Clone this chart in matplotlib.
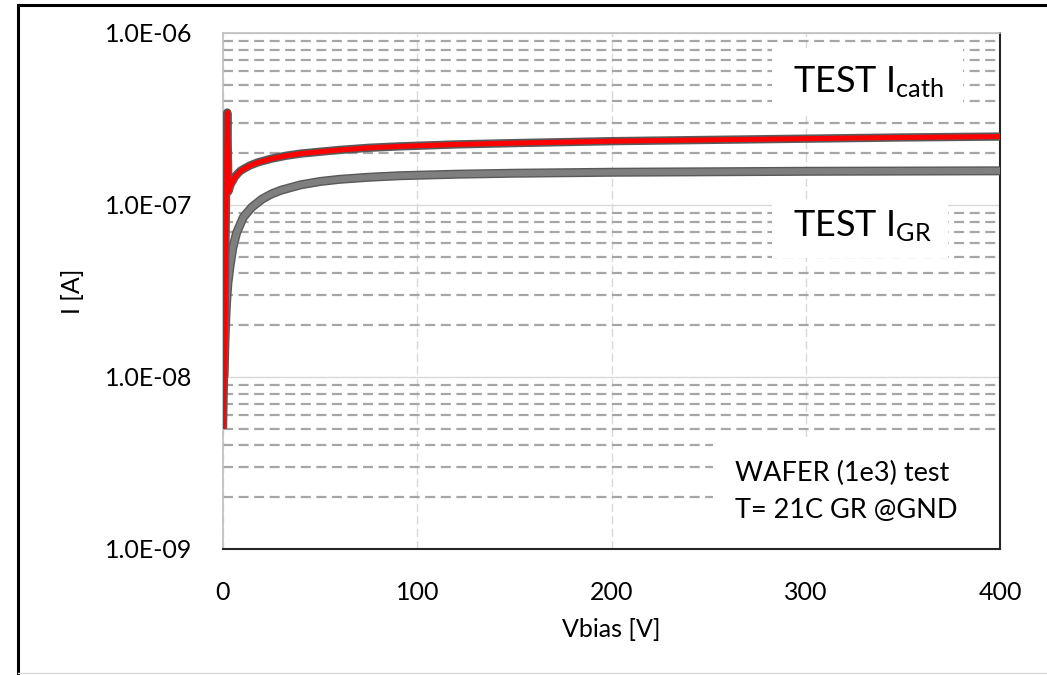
import numpy as np
import matplotlib.pyplot as plt
from matplotlib.ticker import FuncFormatter, LogLocator, FixedLocator
from matplotlib.patches import Rectangle
from matplotlib.lines import Line2D

plt.rcParams['font.family'] = ['Lato', 'DejaVu Sans']
plt.rcParams['mathtext.default'] = 'regular'

# данные
v_cath = [0, 0.5, 1.0, 1.5, 2.0, 2.2, 2.5, 2.8, 3.5, 4, 5, 6, 7.5, 9, 11, 14,
          18, 25, 32, 40, 50, 60, 75, 90, 120, 150, 200, 250, 300, 350, 400]
i_cath = [5e-9, 1e-8, 3e-8, 1e-7, 2.5e-7, 3.45e-7, 2.0e-7, 1.2e-7, 1.27e-7,
          1.32e-7, 1.38e-7, 1.45e-7, 1.52e-7, 1.58e-7, 1.63e-7, 1.7e-7,
          1.77e-7, 1.86e-7, 1.93e-7, 1.99e-7, 2.04e-7, 2.09e-7, 2.15e-7,
          2.19e-7, 2.25e-7, 2.29e-7, 2.35e-7, 2.39e-7, 2.43e-7, 2.47e-7, 2.5e-7]

v_gr = [0.5, 0.67, 1.0, 1.5, 1.9, 2.5, 3.6, 5, 7, 10.5, 14.8, 20, 25, 30, 40,
        50, 60, 75, 91, 120, 150, 200, 250, 300, 350, 400]
i_gr = [1.0e-8, 1.15e-8, 1.6e-8, 2.3e-8, 2.8e-8, 3.5e-8, 4.4e-8, 5.6e-8,
        6.9e-8, 8.5e-8, 9.7e-8, 1.08e-7, 1.16e-7, 1.22e-7, 1.31e-7, 1.37e-7,
        1.41e-7, 1.45e-7, 1.48e-7, 1.51e-7, 1.53e-7, 1.55e-7, 1.56e-7,
        1.57e-7, 1.575e-7, 1.58e-7]

x_ticks = [0, 100, 200, 300, 400]
y_ticks = [1e-9, 1e-8, 1e-7, 1e-6]

fig = plt.figure(figsize=(10.47, 6.75), dpi=100)
ax = fig.add_axes([223 / 1047, 1 - 549 / 675, 777 / 1047, 516 / 675])

ax.set_yscale('log')
ax.set_xlim(0, 400)
ax.set_ylim(1e-9, 1e-6)

# сетка
ax.yaxis.set_major_locator(FixedLocator(y_ticks))
ax.yaxis.set_minor_locator(LogLocator(base=10, subs=np.arange(2, 10)))
ax.xaxis.set_major_locator(FixedLocator(x_ticks))
ax.grid(True, which='major', axis='y', color='#d9d9d9', linewidth=1.0, linestyle='-')
ax.grid(True, which='minor', axis='y', color='#a6a6a6', linewidth=1.6,
        linestyle=(0, (4.5, 2.5)))
ax.grid(True, which='major', axis='x', color='#d9d9d9', linewidth=1.0,
        linestyle=(0, (6, 3)))
ax.set_axisbelow(True)

# кривые
ax.plot(v_gr, i_gr, color='#595959', linewidth=6.5, solid_capstyle='butt',
        solid_joinstyle='round', zorder=3)
ax.plot(v_gr, i_gr, color='#7f7f7f', linewidth=4.5, solid_capstyle='butt',
        solid_joinstyle='round', zorder=3)
ax.plot(v_cath, i_cath, color='#595959', linewidth=6, solid_capstyle='butt',
        solid_joinstyle='round', zorder=4)
ax.plot(v_cath, i_cath, color='#ff0000', linewidth=3.6, solid_capstyle='butt',
        solid_joinstyle='round', zorder=5)

ax.yaxis.set_major_formatter(FuncFormatter(lambda y, pos: '{:.1E}'.format(y)))
ax.tick_params(axis='both', which='both', length=0, labelsize=18, colors='#000000')
ax.tick_params(axis='y', pad=22)
ax.tick_params(axis='x', pad=23)

ax.set_xlabel('Vbias [V]', fontsize=18, labelpad=10)
ax.set_ylabel('I [A]', fontsize=18, labelpad=15)

for side in ('left', 'top'):
    ax.spines[side].set_color('#bfbfbf')
    ax.spines[side].set_linewidth(1.2)
for side in ('right', 'bottom'):
    ax.spines[side].set_color('#262626')
    ax.spines[side].set_linewidth(1.5)

# подписи в белых рамках
boxes = [(0.7066, 0.841, 0.2454, 0.130),
         (0.7066, 0.564, 0.2264, 0.1065),
         (0.6306, 0.0, 0.3694, 0.217)]
for x0, y0, w, h in boxes:
    ax.add_patch(Rectangle((x0, y0), w, h, transform=ax.transAxes,
                           facecolor='white', edgecolor='none', zorder=2))

ax.text(0.733, 0.886, 'TEST I$_{cath}$', transform=ax.transAxes, fontsize=26,
        va='baseline', ha='left', zorder=6)
ax.text(0.733, 0.6066, 'TEST I$_{GR}$', transform=ax.transAxes, fontsize=26,
        va='baseline', ha='left', zorder=6)
ax.text(0.659, 0.1318, 'WAFER (1e3) test', transform=ax.transAxes, fontsize=19.5,
        va='baseline', ha='left', zorder=6)
ax.text(0.659, 0.060, 'T= 21C GR @GND', transform=ax.transAxes, fontsize=19.5,
        va='baseline', ha='left', zorder=6)

# внешняя рамка
fig.add_artist(Line2D([18 / 1047, 18 / 1047], [0, 1 - 5 / 675],
                      transform=fig.transFigure, color='black', linewidth=2.2))
fig.add_artist(Line2D([18 / 1047, 1], [1 - 5 / 675, 1 - 5 / 675],
                      transform=fig.transFigure, color='black', linewidth=2.2))
fig.add_artist(Line2D([18 / 1047, 1], [2 / 675, 2 / 675],
                      transform=fig.transFigure, color='#d9d9d9', linewidth=1))

fig.savefig('out.png', dpi=100)
